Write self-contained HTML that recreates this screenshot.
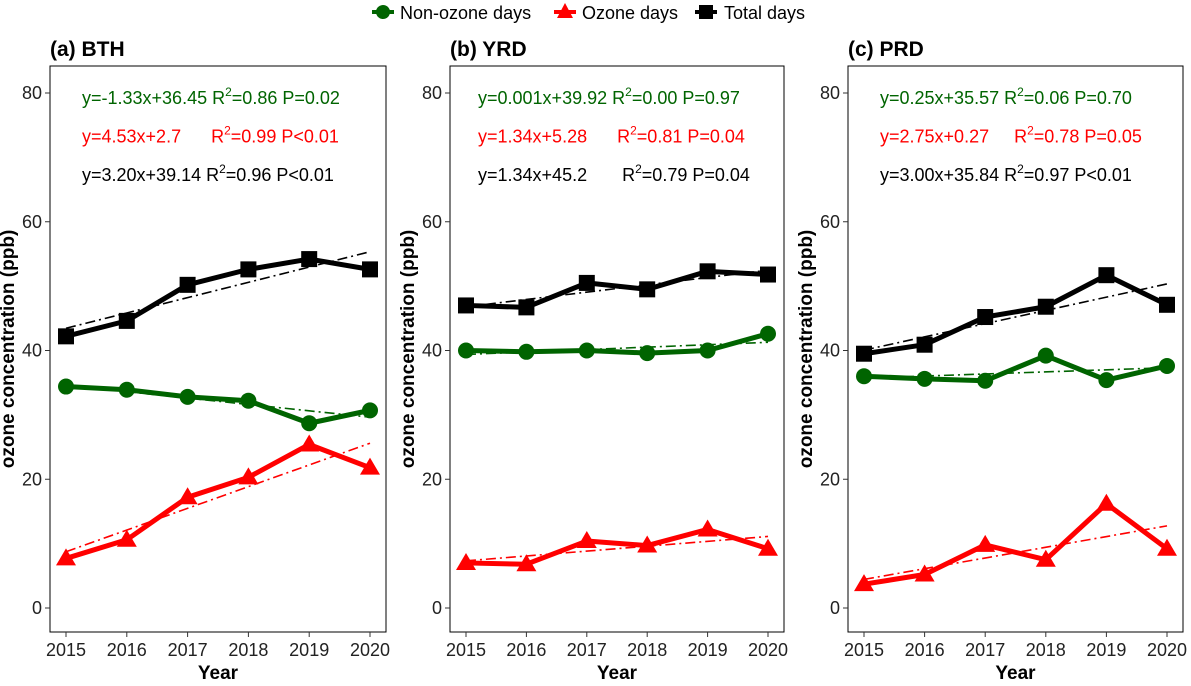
<!DOCTYPE html>
<html><head><meta charset="utf-8">
<style>
body{margin:0;background:#fff;font-family:"Liberation Sans",Arial,sans-serif;}
svg text{font-family:"Liberation Sans",Arial,sans-serif;white-space:pre;}
</style></head>
<body>
<svg id="chart" width="1191" height="681" xmlns="http://www.w3.org/2000/svg">
<g id="legend">
  <g>
    <line x1="372" y1="12" x2="394" y2="12" stroke="#006400" stroke-width="4"/>
    <circle cx="383" cy="12" r="7" fill="#006400"/>
    <text x="400" y="19" font-size="18">Non-ozone days</text>
  </g>
  <g>
    <line x1="554" y1="12" x2="576" y2="12" stroke="#ff0000" stroke-width="4"/>
    <polygon points="565,3 573,18 557,18" fill="#ff0000"/>
    <text x="582" y="19" font-size="18">Ozone days</text>
  </g>
  <g>
    <line x1="695" y1="12" x2="717" y2="12" stroke="#000" stroke-width="4"/>
    <rect x="699" y="5" width="14" height="14" fill="#000"/>
    <text x="724" y="19" font-size="18">Total days</text>
  </g>
</g>
</svg>
<script>
const years=[2015,2016,2017,2018,2019,2020];
const yTicks=[0,20,40,60,80];
const panelTitles=["(a) BTH","(b) YRD","(c) PRD"];
const bthTotal=[42.2,44.6,50.2,52.6,54.2,52.6];
const bthNon=[34.4,33.9,32.8,32.2,28.7,30.7];
const bthOzone=[7.7,10.6,17.2,20.3,25.4,21.8];
const yrdTotal=[47.0,46.7,50.5,49.5,52.3,51.8];
const yrdNon=[40.0,39.8,40.0,39.6,40.0,42.6];
const yrdOzone=[7.0,6.8,10.4,9.7,12.2,9.2];
const prdTotal=[39.5,40.9,45.2,46.8,51.7,47.1];
const prdNon=[36.0,35.6,35.3,39.2,35.4,37.6];
const prdOzone=[3.7,5.2,9.8,7.5,16.2,9.2];
const eqBTH=[["y=-1.33x+36.45 ","0.86 P=0.02"],["y=4.53x+2.7      ","0.99 P<0.01"],["y=3.20x+39.14 ","0.96 P<0.01"]];
const eqYRD=[["y=0.001x+39.92 ","0.00 P=0.97"],["y=1.34x+5.28      ","0.81 P=0.04"],["y=1.34x+45.2       ","0.79 P=0.04"]];
const eqPRD=[["y=0.25x+35.57 ","0.06 P=0.70"],["y=2.75x+0.27     ","0.78 P=0.05"],["y=3.00x+35.84 ","0.97 P<0.01"]];

const NS="http://www.w3.org/2000/svg";
const svg=document.getElementById('chart');
function mk(tag,attrs,parent){const e=document.createElementNS(NS,tag);for(const k in attrs)e.setAttribute(k,attrs[k]);(parent||svg).appendChild(e);return e;}
const panels=[
 {left:50,right:386,data:[bthNon,bthOzone,bthTotal],eq:eqBTH,name:"bth"},
 {left:450,right:784,data:[yrdNon,yrdOzone,yrdTotal],eq:eqYRD,name:"yrd"},
 {left:848,right:1183,data:[prdNon,prdOzone,prdTotal],eq:eqPRD,name:"prd"}];
const colors=["#006400","#ff0000","#000000"];
const plotTop=66,plotBottom=632;
function yS(v){return 608-v*6.4375;}
panels.forEach((p,pi)=>{
  const g=mk('g',{});
  
  
  const x0=p.left+16,x1=p.right-16;
  const xS=yr=>x0+(yr-years[0])*(x1-x0)/(years[years.length-1]-years[0]);
  const fr=mk('rect',{x:p.left,y:plotTop,width:p.right-p.left,height:plotBottom-plotTop,fill:'none',stroke:'#000','stroke-width':1},g);
  
  
  const t=mk('text',{x:p.left,y:56,'font-size':21,'font-weight':'bold'},g);t.textContent=panelTitles[pi];
  
  
  yTicks.forEach(v=>{
    mk('line',{x1:p.left-5,x2:p.left,y1:yS(v),y2:yS(v),stroke:'#333'},g);
    const tt=mk('text',{x:p.left-8,y:yS(v)+6,'font-size':18,'text-anchor':'end',fill:'#222'},g);tt.textContent=v;
    
    
  });
  years.forEach(yr=>{
    mk('line',{x1:xS(yr),x2:xS(yr),y1:plotBottom,y2:plotBottom+5,stroke:'#333'},g);
    const tt=mk('text',{x:xS(yr),y:plotBottom+24,'font-size':18,'text-anchor':'middle',fill:'#222'},g);tt.textContent=yr;
    
    
  });
  const xt=mk('text',{x:(p.left+p.right)/2,y:679,'font-size':19,'font-weight':'bold','text-anchor':'middle'},g);xt.textContent='Year';
  
  
  const cy=(plotTop+plotBottom)/2;
  const yt=mk('text',{x:p.left-36,y:cy,'font-size':19,'font-weight':'bold','text-anchor':'middle',transform:`rotate(-90 ${p.left-36} ${cy})`},g);yt.textContent='ozone concentration (ppb)';
  
  
  p.eq.forEach((e,i)=>{
    const tx=mk('text',{x:p.left+(pi==1?28:32),y:104+i*38.5,'font-size':18,fill:colors[i]},g);
    const s1=mk('tspan',{},tx);s1.textContent=e[0]+'R';
    const s2=mk('tspan',{dy:-8,'font-size':12},tx);s2.textContent='2';
    const s3=mk('tspan',{dy:8},tx);s3.textContent='='+e[1];
    
    
  });
  p.data.forEach((arr,si)=>{
    const c=colors[si];
    const n=arr.length,xs=years.map((y,i)=>i+1);
    const mx=xs.reduce((a,b)=>a+b)/n,my=arr.reduce((a,b)=>a+b)/n;
    let sxy=0,sxx=0;xs.forEach((x,i)=>{sxy+=(x-mx)*(arr[i]-my);sxx+=(x-mx)*(x-mx);});
    const b=sxy/sxx,a=my-b*mx;
    const tl=mk('line',{x1:xS(years[0]),y1:yS(a+b*1),x2:xS(years[n-1]),y2:yS(a+b*n),stroke:c,'stroke-width':1.6,'stroke-dasharray':'10 4 2 4'},g);
    
    
    const pts=arr.map((v,i)=>xS(years[i])+','+yS(v)).join(' ');
    const pl=mk('polyline',{points:pts,fill:'none',stroke:c,'stroke-width':5,'stroke-linejoin':'round'},g);
    
    
    arr.forEach((v,i)=>{
      const x=xS(years[i]),y=yS(v);let m;
      if(si==0)m=mk('circle',{cx:x,cy:y,r:8,fill:c},g);
      else if(si==1)m=mk('polygon',{points:`${x},${y-10} ${x+10},${y+7} ${x-10},${y+7}`,fill:c},g);
      else m=mk('rect',{x:x-8,y:y-8,width:16,height:16,fill:c},g);
      
      
    });
  });
});
</script>
</body></html>
